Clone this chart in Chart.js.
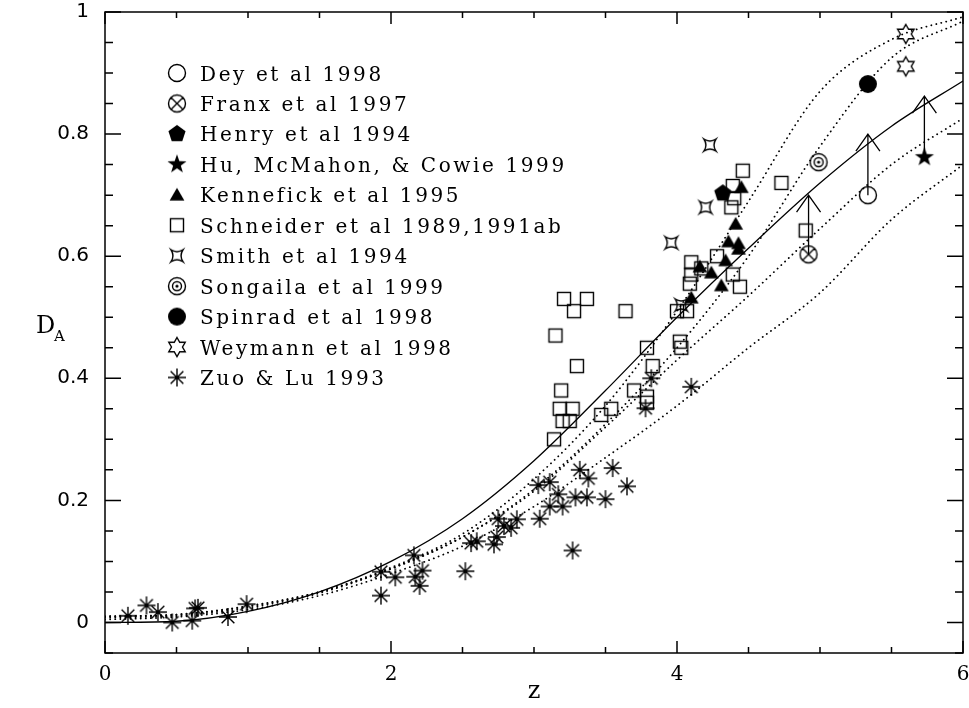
<!DOCTYPE html>
<html lang="en">
<head>
<meta charset="UTF-8"/>
<title>D_A versus z</title>
<style>
    html, body {
        margin: 0;
        padding: 0;
        background: #fff;
        overflow: hidden;
    }
    #wrap {
        width: 969px;
        height: 708px;
    }
</style>
</head>
<body>
<div id="wrap"><canvas id="chart" width="969" height="708"></canvas></div>

<script src="https://cdn.jsdelivr.net/npm/chart.js"></script>
<script>
// model curves, every 0.5 in z
const curveZ = [0, 0.5, 1, 1.5, 2, 2.5, 3, 3.5, 4, 4.5, 5, 5.5, 6];
const solidD = [0, 0.002, 0.018, 0.05, 0.1, 0.17, 0.265, 0.38, 0.5, 0.613, 0.72, 0.813, 0.887];
const dotA   = [0.01, 0.013, 0.027, 0.05, 0.09, 0.145, 0.235, 0.355, 0.51, 0.69, 0.87, 0.955, 0.992];
const dotB   = [0.01, 0.013, 0.026, 0.05, 0.088, 0.14, 0.218, 0.325, 0.45, 0.6, 0.78, 0.925, 0.985];
const dotC   = [0.008, 0.011, 0.024, 0.048, 0.088, 0.14, 0.215, 0.32, 0.43, 0.535, 0.645, 0.75, 0.826];
const dotD   = [0.005, 0.009, 0.021, 0.044, 0.08, 0.125, 0.19, 0.27, 0.355, 0.45, 0.54, 0.66, 0.75];

// observed points [z, D_A]
const dey       = [[5.335, 0.70]];
const franx     = [[4.92, 0.603]];
const henry     = [[4.32, 0.703]];
const hu        = [[5.73, 0.762]];
const kennefick = [[4.45, 0.713], [4.41, 0.653], [4.36, 0.624], [4.43, 0.621], [4.43, 0.612],
                   [4.34, 0.593], [4.16, 0.583], [4.24, 0.573], [4.31, 0.552], [4.1, 0.532]];
const schneider = [[3.14, 0.30], [3.15, 0.47], [3.18, 0.35], [3.19, 0.38], [3.2, 0.33], [3.21, 0.53],
                   [3.25, 0.33], [3.27, 0.35], [3.28, 0.51], [3.3, 0.42], [3.37, 0.53], [3.47, 0.34],
                   [3.54, 0.35], [3.64, 0.51], [3.7, 0.38], [3.79, 0.45], [3.79, 0.37], [3.79, 0.36],
                   [3.83, 0.42], [4.0, 0.51], [4.02, 0.46], [4.03, 0.45], [4.07, 0.51], [4.09, 0.555],
                   [4.1, 0.57], [4.1, 0.59], [4.17, 0.58], [4.28, 0.60], [4.38, 0.68], [4.39, 0.57],
                   [4.39, 0.715], [4.4, 0.695], [4.44, 0.55], [4.46, 0.74], [4.73, 0.72], [4.9, 0.642]];
const smith     = [[3.96, 0.622], [4.2, 0.68], [4.23, 0.782], [4.03, 0.52]];
const songaila  = [[4.99, 0.754]];
const spinrad   = [[5.335, 0.882]];
const weymann   = [[5.6, 0.964], [5.6, 0.911]];
const zuo       = [[0.16, 0.011], [0.29, 0.028], [0.37, 0.017], [0.47, 0.0], [0.61, 0.003], [0.63, 0.023],
                   [0.65, 0.024], [0.86, 0.009], [0.99, 0.03], [1.93, 0.083], [1.93, 0.044], [2.03, 0.074],
                   [2.16, 0.11], [2.17, 0.075], [2.2, 0.06], [2.22, 0.085], [2.52, 0.084], [2.56, 0.13],
                   [2.6, 0.133], [2.72, 0.128], [2.74, 0.14], [2.75, 0.17], [2.79, 0.158], [2.84, 0.155],
                   [2.88, 0.169], [3.03, 0.225], [3.04, 0.17], [3.11, 0.23], [3.11, 0.19], [3.17, 0.21],
                   [3.2, 0.19], [3.27, 0.118], [3.29, 0.205], [3.32, 0.25], [3.37, 0.205], [3.38, 0.236],
                   [3.5, 0.202], [3.55, 0.253], [3.65, 0.223], [3.78, 0.351], [3.82, 0.40], [4.1, 0.386]];

// lower limits drawn as arrows [z, from, to]
const limitArrows = [[5.335, 0.70, 0.80], [4.92, 0.603, 0.70], [5.73, 0.762, 0.862]];

const legendNames = ['Dey et al 1998', 'Franx et al 1997', 'Henry et al 1994', 'Hu, McMahon, & Cowie 1999',
                     'Kennefick et al 1995', 'Schneider et al 1989,1991ab', 'Smith et al 1994',
                     'Songaila et al 1999', 'Spinrad et al 1998', 'Weymann et al 1998', 'Zuo & Lu 1993'];

const xTickLabels = [0, 2, 4, 6];
const yTickLabels = [0, 0.2, 0.4, 0.6, 0.8, 1];

// ---- marker images ----
function marker(draw) {
    const c = document.createElement('canvas');
    c.width = c.height = 26;
    const g = c.getContext('2d');
    g.translate(13, 13);
    g.lineWidth = 1.4;
    g.strokeStyle = '#000';
    g.fillStyle = '#000';
    draw(g);
    return c;
}
function poly(g, n, r, inner, start) {
    g.beginPath();
    const m = inner ? n * 2 : n;
    for (let i = 0; i < m; i++) {
        const a = start + i * Math.PI * 2 / m;
        const rr = inner && i % 2 ? inner : r;
        g.lineTo(rr * Math.cos(a), rr * Math.sin(a));
    }
    g.closePath();
}
const up = -Math.PI / 2;
const markers = {
    circle: marker(g => { g.beginPath(); g.arc(0, 0, 8.5, 0, Math.PI * 2); g.stroke(); }),
    circleX: marker(g => {
        g.beginPath(); g.arc(0, 0, 8.5, 0, Math.PI * 2);
        g.moveTo(-6, -6); g.lineTo(6, 6); g.moveTo(6, -6); g.lineTo(-6, 6); g.stroke();
    }),
    pentagon: marker(g => { poly(g, 5, 9, 0, up); g.fill(); }),
    star: marker(g => { poly(g, 5, 10, 4, up); g.fill(); }),
    triangle: marker(g => { g.translate(0, 1.5); poly(g, 3, 8.5, 0, up); g.fill(); }),
    square: marker(g => { g.strokeRect(-6.5, -6.5, 13, 13); }),
    concave: marker(g => {
        const a = 6;
        g.beginPath();
        g.moveTo(-a, -a);
        g.quadraticCurveTo(0, -a * 0.35, a, -a);
        g.quadraticCurveTo(a * 0.35, 0, a, a);
        g.quadraticCurveTo(0, a * 0.35, -a, a);
        g.quadraticCurveTo(-a * 0.35, 0, -a, -a);
        g.closePath();
        g.stroke();
    }),
    bullseye: marker(g => {
        g.beginPath(); g.arc(0, 0, 8.5, 0, Math.PI * 2); g.stroke();
        g.beginPath(); g.arc(0, 0, 4.5, 0, Math.PI * 2); g.stroke();
        g.beginPath(); g.arc(0, 0, 1.6, 0, Math.PI * 2); g.fill();
    }),
    disc: marker(g => { g.beginPath(); g.arc(0, 0, 9, 0, Math.PI * 2); g.fill(); }),
    hexagram: marker(g => { poly(g, 6, 9.5, 5.5, up); g.stroke(); }),
    asterisk: marker(g => {
        g.beginPath();
        for (let i = 0; i < 4; i++) {
            const a = i * Math.PI / 4;
            g.moveTo(-9 * Math.cos(a), -9 * Math.sin(a));
            g.lineTo(9 * Math.cos(a), 9 * Math.sin(a));
        }
        g.stroke();
        g.beginPath(); g.arc(0, 0, 1.6, 0, Math.PI * 2); g.fill();
    })
};

const series = [
    [dey, markers.circle], [franx, markers.circleX], [henry, markers.pentagon], [hu, markers.star],
    [kennefick, markers.triangle], [schneider, markers.square], [smith, markers.concave],
    [songaila, markers.bullseye], [spinrad, markers.disc], [weymann, markers.hexagram], [zuo, markers.asterisk]
];

const curve = vals => curveZ.map((z, i) => ({x: z, y: vals[i]}));
const lineSet = (vals, dotted) => ({
    type: 'line',
    data: curve(vals),
    borderColor: '#000',
    borderWidth: dotted ? 1.8 : 1.3,
    borderDash: dotted ? [0.1, 5] : [],
    borderCapStyle: dotted ? 'round' : 'butt',
    pointRadius: 0,
    fill: false,
    cubicInterpolationMode: 'monotone',
    order: 20
});

const datasets = [
    lineSet(solidD, false), lineSet(dotA, true), lineSet(dotB, true), lineSet(dotC, true), lineSet(dotD, true)
];
series.forEach(([pts, img], i) => {
    datasets.push({
        type: 'scatter',
        label: legendNames[i],
        data: pts.map(p => ({x: p[0], y: p[1]})),
        pointStyle: img,
        pointRadius: 5,
        pointHoverRadius: 5,
        order: 1
    });
});

// frame with inward ticks on all four sides
const frame = {
    id: 'frame',
    afterDraw(chart) {
        const {ctx, chartArea: a, scales: {x, y}} = chart;
        ctx.save();
        ctx.strokeStyle = '#000';
        ctx.lineWidth = 1.5;
        ctx.strokeRect(a.left, a.top, a.right - a.left, a.bottom - a.top);
        ctx.beginPath();
        for (let k = 0; k <= 12; k++) {
            const px = x.getPixelForValue(k * 0.5);
            const len = k % 4 === 0 ? 12 : 6;
            ctx.moveTo(px, a.bottom); ctx.lineTo(px, a.bottom - len);
            ctx.moveTo(px, a.top); ctx.lineTo(px, a.top + len);
        }
        for (let k = -1; k <= 20; k++) {
            const py = y.getPixelForValue(k * 0.05);
            const len = k % 4 === 0 ? 16 : 8;
            ctx.moveTo(a.left, py); ctx.lineTo(a.left + len, py);
            ctx.moveTo(a.right, py); ctx.lineTo(a.right - len, py);
        }
        ctx.stroke();

        // axis titles
        ctx.fillStyle = '#000';
        ctx.textAlign = 'center';
        ctx.font = '24px "DejaVu Serif"';
        ctx.fillText('z', (a.left + a.right) / 2, 698);
        ctx.textAlign = 'left';
        ctx.fillText('D', 36, 333);
        ctx.font = '15px "DejaVu Serif"';
        ctx.fillText('A', 54, 341);
        ctx.restore();
    }
};

// lower-limit arrows and the legend box
const extras = {
    id: 'extras',
    afterDatasetsDraw(chart) {
        const {ctx, scales: {x, y}} = chart;
        ctx.save();
        ctx.strokeStyle = '#000';
        ctx.lineWidth = 1.3;
        limitArrows.forEach(([z, d0, d1]) => {
            const px = x.getPixelForValue(z);
            const p0 = y.getPixelForValue(d0);
            const p1 = y.getPixelForValue(d1);
            ctx.beginPath();
            ctx.moveTo(px, p0); ctx.lineTo(px, p1);
            ctx.moveTo(px - 12, p1 + 17); ctx.lineTo(px, p1); ctx.lineTo(px + 12, p1 + 17);
            ctx.stroke();
        });

        ctx.fillStyle = '#000';
        ctx.font = '20px "DejaVu Serif"';
        ctx.letterSpacing = '2.6px';
        ctx.textBaseline = 'alphabetic';
        series.forEach(([pts, img], i) => {
            const cy = 73 + i * 30.45;
            ctx.drawImage(img, 177 - 13, cy - 13);
            ctx.fillText(legendNames[i], 200, cy + 7.5);
        });
        ctx.restore();
    }
};

// drop the automatic room Chart.js keeps for edge tick labels
const noEdgePadding = s => {
    s.paddingLeft = 0; s.paddingRight = 0; s.paddingTop = 0; s.paddingBottom = 0;
};

new Chart(document.getElementById('chart'), {
    data: {datasets: datasets},
    options: {
        responsive: false,
        devicePixelRatio: 1,
        animation: false,
        events: [],
        layout: {padding: {top: 12, right: 5, left: 0, bottom: 0}},
        plugins: {legend: {display: false}, tooltip: {enabled: false}},
        scales: {
            x: {
                type: 'linear',
                min: 0,
                max: 6,
                grid: {display: false, drawTicks: false},
                border: {display: false},
                afterBuildTicks: s => { s.ticks = xTickLabels.map(v => ({value: v})); },
                afterFit: s => { s.height = 55; noEdgePadding(s); },
                ticks: {
                    padding: 10,
                    color: '#000',
                    font: {family: 'DejaVu Serif', size: 20},
                    callback: v => String(v)
                }
            },
            y: {
                type: 'linear',
                min: -0.05,
                max: 1,
                grid: {display: false, drawTicks: false},
                border: {display: false},
                afterBuildTicks: s => { s.ticks = yTickLabels.map(v => ({value: v})); },
                afterFit: s => { s.width = 105; noEdgePadding(s); },
                ticks: {
                    padding: 16,
                    color: '#000',
                    font: {family: 'DejaVu Sans', size: 20},
                    callback: v => (v === 0 || v === 1) ? String(v) : v.toFixed(1)
                }
            }
        }
    },
    plugins: [frame, extras]
});
</script>
</body>
</html>
